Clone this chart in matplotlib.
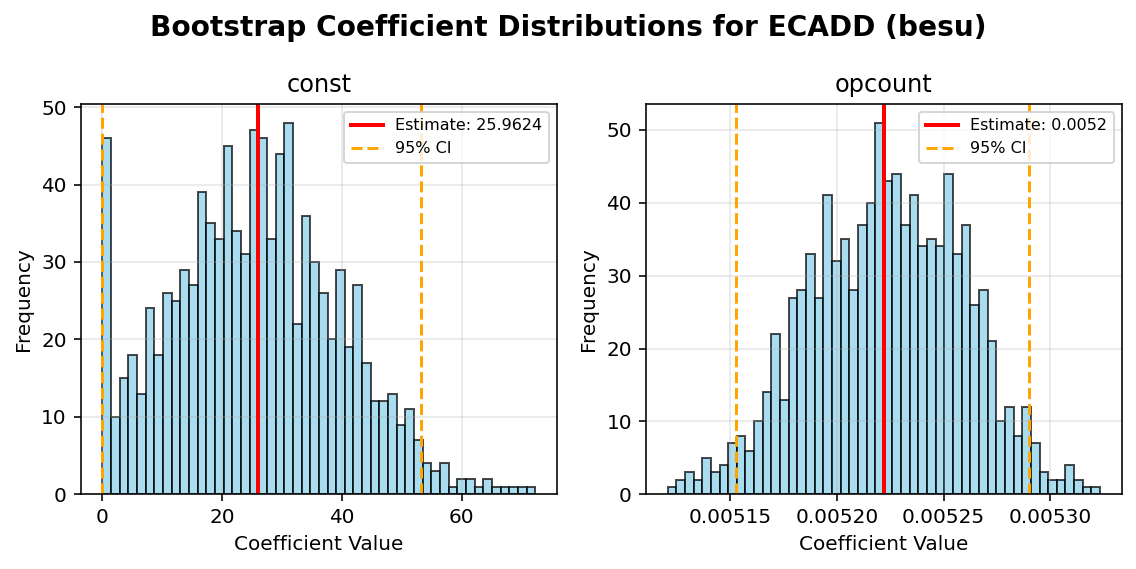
import numpy as np
import matplotlib
matplotlib.use("Agg")
import matplotlib.pyplot as plt

# ---- data ----
const_counts = [46, 10, 15, 18, 13, 24, 18, 26, 25, 29,
                27, 39, 35, 33, 45, 34, 31, 47, 46, 33,
                44, 48, 22, 36, 30, 26, 20, 29, 19, 27,
                17, 12, 12, 13, 9, 11, 7, 4, 3, 4,
                1, 2, 2, 1, 2, 1, 1, 1, 1, 1]
const_range = (0.0, 72.3)
const_estimate = 25.9624
const_ci = (0.0, 53.2)

opcount_counts = [1, 2, 3, 2, 5, 3, 4, 7, 8, 6,
                  10, 14, 22, 13, 27, 28, 33, 27, 41, 32,
                  35, 28, 37, 40, 51, 43, 44, 37, 41, 34,
                  35, 34, 44, 33, 37, 26, 28, 21, 10, 12,
                  8, 12, 7, 3, 2, 2, 4, 2, 1, 1]
opcount_range = (0.0051208, 0.0053233)
opcount_estimate = 0.005222
opcount_ci = (0.005153, 0.005290)

titles = ["const", "opcount"]
estimate_labels = ["Estimate: 25.9624", "Estimate: 0.0052"]
suptitle = "Bootstrap Coefficient Distributions for ECADD (besu)"

DPI = 144
W, H = 1136, 569
fig = plt.figure(figsize=(W / DPI, H / DPI), dpi=DPI)
ax1 = fig.add_axes([80.7 / W, (H - 494.3) / H, 476.3 / W, 390.3 / H])
ax2 = fig.add_axes([646 / W, (H - 494.3) / H, 475.7 / W, 390.3 / H])

datasets = [
    (ax1, const_counts, const_range, const_estimate, const_ci),
    (ax2, opcount_counts, opcount_range, opcount_estimate, opcount_ci),
]

for i, (ax, counts, rng, est, ci) in enumerate(datasets):
    edges = np.linspace(rng[0], rng[1], len(counts) + 1)
    ax.hist(edges[:-1], bins=edges, weights=counts, color="skyblue",
            edgecolor="black", alpha=0.7, linewidth=1.0)
    ax.axvline(est, color="red", linewidth=2, label=estimate_labels[i])
    ax.axvline(ci[0], color="orange", linestyle="--", linewidth=1.5, label="95% CI")
    ax.axvline(ci[1], color="orange", linestyle="--", linewidth=1.5)
    ax.set_title(titles[i], fontsize=12)
    ax.set_xlabel("Coefficient Value", fontsize=10)
    ax.set_ylabel("Frequency", fontsize=10)
    ax.grid(True, alpha=0.3)
    ax.legend(loc="upper right", fontsize=8)
    ax.tick_params(labelsize=10)

ax2.set_xticks([0.00515, 0.00520, 0.00525, 0.00530])
ax2.set_xticklabels(["0.00515", "0.00520", "0.00525", "0.00530"])

fig.suptitle(suptitle, fontsize=14, fontweight="bold", y=0.975)
fig.savefig("out.png", dpi=DPI)
